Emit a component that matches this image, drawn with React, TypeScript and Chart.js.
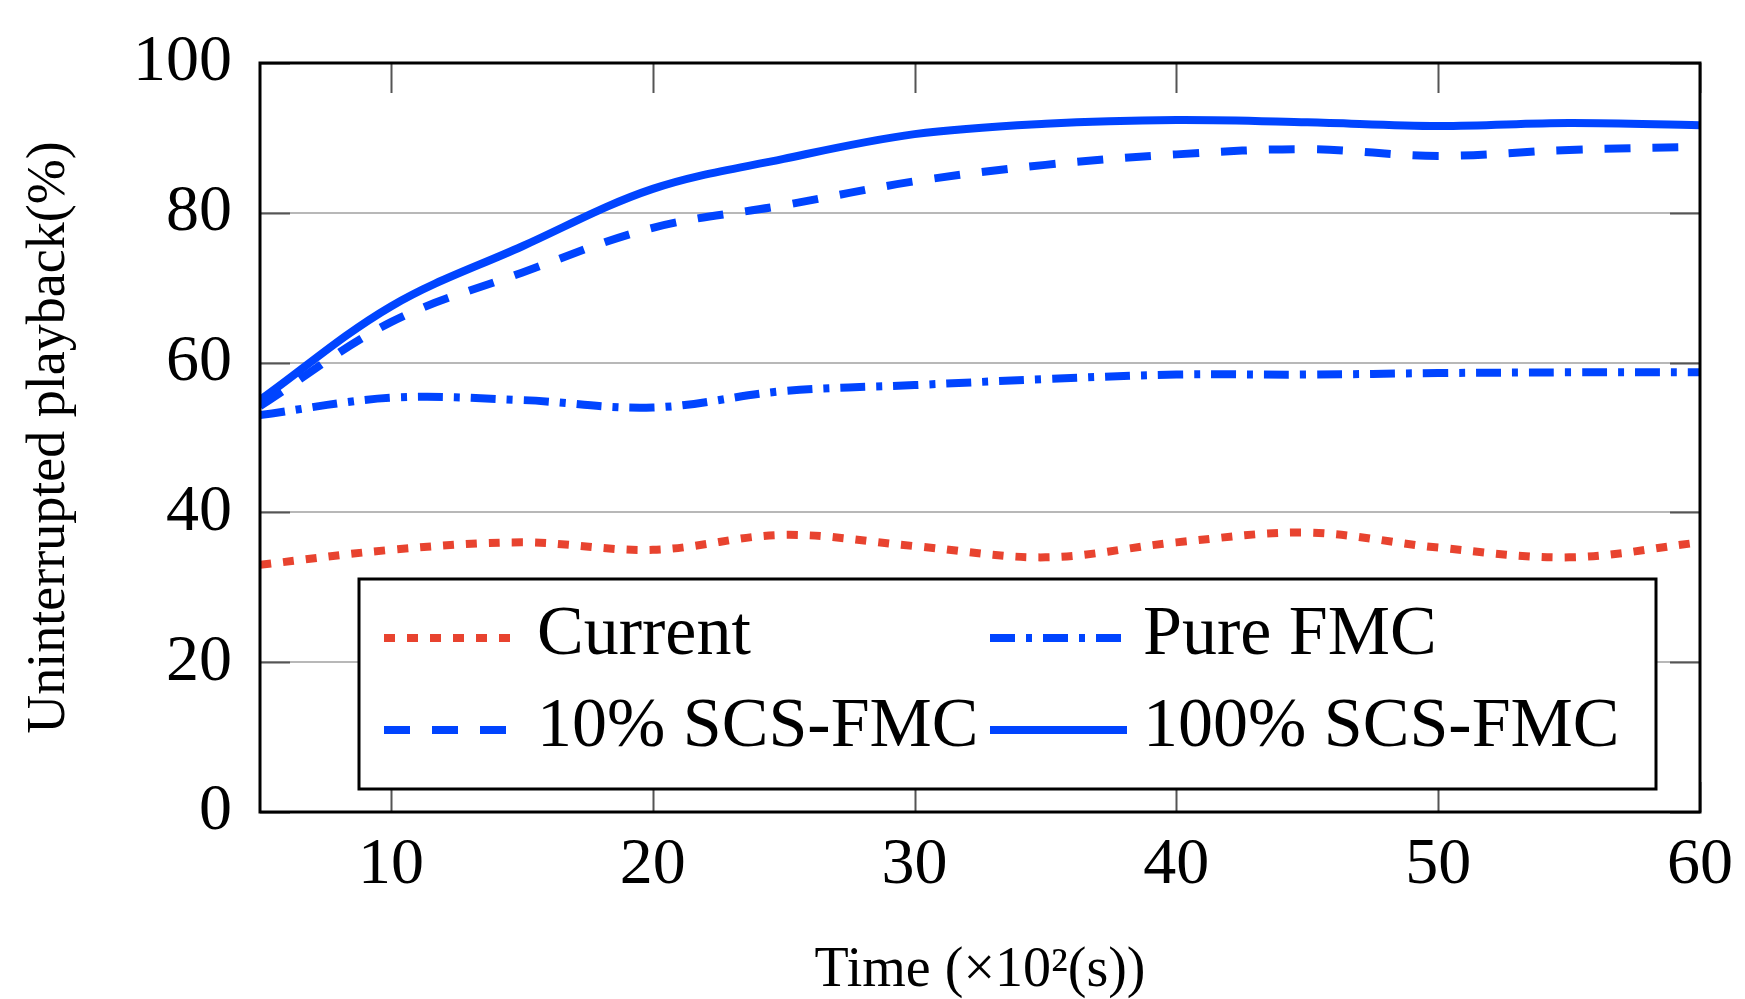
import React, { useEffect, useRef } from "react";
import { Chart, registerables } from "chart.js";

Chart.register(...registerables);

// ---- data ----
const times = [5, 10, 15, 20, 25, 30, 35, 40, 45, 50, 55, 60];
const currentVals = [33, 35, 36, 35, 37, 35.5, 34, 36, 37.3, 35.3, 34, 36];
const pureFmcVals = [53, 55.3, 55, 54, 56.2, 57, 57.8, 58.4, 58.4, 58.6, 58.7, 58.7];
const scs10Vals = [54.2, 65.4, 72, 78, 81, 84.2, 86.4, 87.8, 88.5, 87.6, 88.4, 88.8];
const scs100Vals = [55, 67.5, 75.5, 83.2, 87.2, 90.5, 91.9, 92.4, 92.1, 91.6, 92, 91.7];

const xTickValues = [10, 20, 30, 40, 50, 60];
const yTickValues = [0, 20, 40, 60, 80, 100];
const seriesLabels = ["Current", "Pure FMC", "10% SCS-FMC", "100% SCS-FMC"];
const xTitle = "Time (×10²(s))";
const yTitle = "Uninterrupted playback(%)";

const FONT = '"Liberation Serif", "Times New Roman", serif';
const BLUE = "#0044ff";
const RED = "#e8432f";

const toPoints = (vals: number[]) => vals.map((v, i) => ({ x: times[i], y: v }));

const framePlugin = {
  id: "frame",
  afterDatasetsDraw(chart: any) {
    const { ctx, chartArea: ca, scales } = chart;
    ctx.save();
    ctx.strokeStyle = "#555555";
    ctx.lineWidth = 2;
    const tl = 30;
    xTickValues.forEach((v) => {
      const px = Math.round(scales.x.getPixelForValue(v)) + 0.5;
      ctx.beginPath();
      ctx.moveTo(px, ca.top);
      ctx.lineTo(px, ca.top + tl);
      ctx.moveTo(px, ca.bottom);
      ctx.lineTo(px, ca.bottom - tl);
      ctx.stroke();
    });
    yTickValues.forEach((v) => {
      const py = Math.round(scales.y.getPixelForValue(v)) + 0.5;
      ctx.beginPath();
      ctx.moveTo(ca.left, py);
      ctx.lineTo(ca.left + tl, py);
      ctx.moveTo(ca.right, py);
      ctx.lineTo(ca.right - tl, py);
      ctx.stroke();
    });
    ctx.strokeStyle = "#000000";
    ctx.lineWidth = 3;
    ctx.strokeRect(ca.left, ca.top, ca.right - ca.left, ca.bottom - ca.top);
    ctx.restore();
  },
};

const legendPlugin = {
  id: "insideLegend",
  afterDraw(chart: any) {
    const { ctx, chartArea: ca } = chart;
    const boxL = ca.left + 99;
    const boxT = ca.top + 516;
    const boxW = 1297;
    const boxH = 210;
    ctx.save();
    ctx.fillStyle = "#ffffff";
    ctx.fillRect(boxL, boxT, boxW, boxH);
    ctx.strokeStyle = "#000000";
    ctx.lineWidth = 3;
    ctx.strokeRect(boxL, boxT, boxW, boxH);

    const colX = [boxL + 25, boxL + 631];
    const rowY = [boxT + 57, boxT + 149];
    const sampleW = 137;
    chart.data.datasets.forEach((ds: any, i: number) => {
      const col = i % 2;
      const row = Math.floor(i / 2);
      const x0 = colX[col];
      const y0 = rowY[row];
      ctx.save();
      ctx.strokeStyle = ds.borderColor;
      ctx.lineWidth = ds.borderWidth;
      ctx.setLineDash(ds.borderDash || []);
      ctx.lineCap = "butt";
      ctx.beginPath();
      ctx.moveTo(x0, y0 + 2);
      ctx.lineTo(x0 + sampleW, y0 + 2);
      ctx.stroke();
      ctx.restore();
      ctx.fillStyle = "#000000";
      ctx.font = `70px ${FONT}`;
      ctx.textAlign = "left";
      ctx.textBaseline = "middle";
      ctx.fillText(ds.label, x0 + sampleW + 16, y0);
    });
    ctx.restore();
  },
};

export default function App() {
  const canvasRef = useRef<HTMLCanvasElement | null>(null);

  useEffect(() => {
    if (!canvasRef.current) return;
    const chart = new Chart(canvasRef.current, {
      type: "line",
      data: {
        datasets: [
          {
            label: seriesLabels[0],
            data: toPoints(currentVals),
            borderColor: RED,
            borderWidth: 8,
            borderDash: [11, 12],
            pointRadius: 0,
            tension: 0.35,
            fill: false,
          },
          {
            label: seriesLabels[1],
            data: toPoints(pureFmcVals),
            borderColor: BLUE,
            borderWidth: 8,
            borderDash: [25, 11, 6, 11],
            pointRadius: 0,
            tension: 0.35,
            fill: false,
          },
          {
            label: seriesLabels[2],
            data: toPoints(scs10Vals),
            borderColor: BLUE,
            borderWidth: 8,
            borderDash: [26, 22],
            pointRadius: 0,
            tension: 0.35,
            fill: false,
          },
          {
            label: seriesLabels[3],
            data: toPoints(scs100Vals),
            borderColor: BLUE,
            borderWidth: 8,
            pointRadius: 0,
            tension: 0.35,
            fill: false,
          },
        ],
      },
      options: {
        animation: false,
        responsive: false,
        maintainAspectRatio: false,
        layout: { padding: { top: 63, right: 45, left: 0, bottom: 0 } },
        plugins: {
          legend: { display: false },
          tooltip: { enabled: false },
          title: { display: false },
        },
        scales: {
          x: {
            type: "linear",
            min: 5,
            max: 60,
            afterBuildTicks: (scale: any) => {
              scale.ticks = xTickValues.map((v) => ({ value: v }));
            },
            afterFit: (scale: any) => {
              scale.height = 187;
              scale.paddingLeft = 0;
              scale.paddingRight = 0;
            },
            grid: { display: false, drawTicks: false },
            border: { display: false },
            ticks: {
              color: "#000000",
              font: { family: FONT, size: 66, lineHeight: 1 },
              padding: 21,
              maxRotation: 0,
              autoSkip: false,
            },
            title: {
              display: true,
              text: xTitle,
              color: "#000000",
              font: { family: FONT, size: 56, lineHeight: 1 },
              padding: { top: 0, bottom: 0 },
            },
          },
          y: {
            type: "linear",
            min: 0,
            max: 100,
            afterBuildTicks: (scale: any) => {
              scale.ticks = yTickValues.map((v) => ({ value: v }));
            },
            afterFit: (scale: any) => {
              scale.width = 260;
              scale.paddingTop = 0;
              scale.paddingBottom = 0;
            },
            grid: { color: "#b8b8b8", lineWidth: 2, drawTicks: false },
            border: { display: false },
            ticks: {
              color: "#000000",
              font: { family: FONT, size: 66, lineHeight: 1 },
              padding: 28,
              autoSkip: false,
            },
            title: {
              display: true,
              text: yTitle,
              color: "#000000",
              font: { family: FONT, size: 54, lineHeight: 1 },
              padding: { top: 23, bottom: 0 },
            },
          },
        },
      },
      plugins: [framePlugin, legendPlugin],
    } as any);
    return () => chart.destroy();
  }, []);

  return (
    <div style={{ position: "fixed", left: 0, top: 0, width: 1745, height: 999, background: "#ffffff" }}>
      <canvas ref={canvasRef} width={1745} height={999} style={{ display: "block" }} />
    </div>
  );
}
